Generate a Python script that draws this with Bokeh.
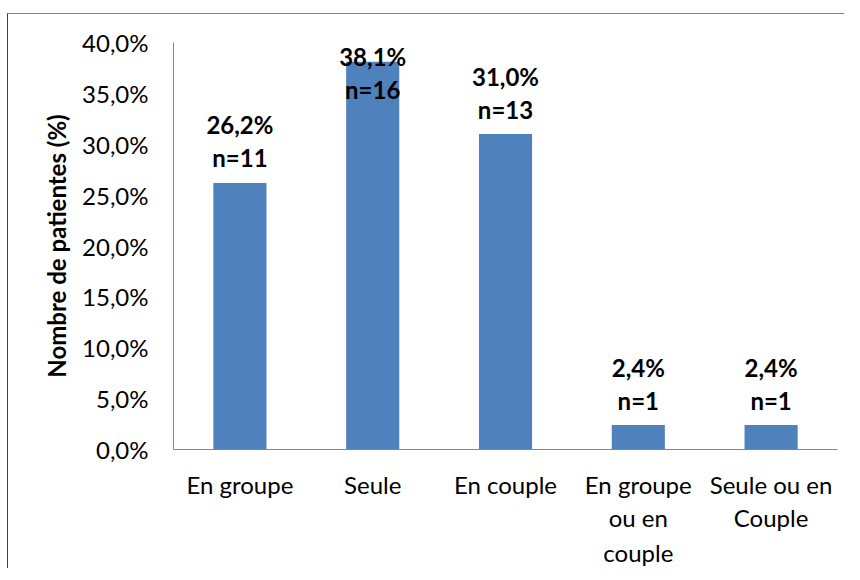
import numpy as np
from bokeh.plotting import figure
from bokeh.models import Range1d, ColumnDataSource, LinearAxis, FixedTicker
from bokeh.core.properties import value
from bokeh.embed import file_html
from bokeh.resources import INLINE

# ---- data ----
categories = ["En groupe", "Seule", "En couple", "En groupe ou en couple", "Seule ou en Couple"]
category_labels = ["En groupe", "Seule", "En couple", "En groupe\nou en\ncouple", "Seule ou en\nCouple"]
percentages = [26.2, 38.1, 31.0, 2.4, 2.4]
counts = [11, 16, 13, 1, 1]
pct_labels = ["26,2%", "38,1%", "31,0%", "2,4%", "2,4%"]
n_labels = ["n=11", "n=16", "n=13", "n=1", "n=1"]
y_ticks = [0, 5, 10, 15, 20, 25, 30, 35, 40]
y_tick_labels = ["0,0%", "5,0%", "10,0%", "15,0%", "20,0%", "25,0%", "30,0%", "35,0%", "40,0%"]
y_title = "Nombre de patientes (%)"

FONT = "Lato"
FS = "24px"
BAR = "#4F81BD"
AXIS = "#868686"

Y_MAX = 40
W, H = 837, 555
ML, MT, MR, MB = 165, 28, 8, 120
frame_h = H - 1 - MT - MB
ppu = frame_h / Y_MAX
PCT_OFF, N_OFF = 58, 25
anchor = np.minimum(np.array(percentages), Y_MAX - (PCT_OFF + 14) / ppu)

# category slot centres on a linear scale (slot i spans [i, i+1])
xpos = [i + 0.5 for i in range(len(categories))]
src = ColumnDataSource(dict(x=xpos, v=percentages, a=anchor, pl=pct_labels, nl=n_labels))

p = figure(x_range=Range1d(0, len(categories)), y_range=Range1d(0, Y_MAX),
           width=W, height=H, output_backend="svg", toolbar_location=None, x_axis_location=None,
           min_border_left=ML, min_border_top=MT, min_border_right=MR, min_border_bottom=MB)
p.margin = (13, 0, 0, 7)
p.styles = {"border-top": "1px solid #7f7f7f", "border-left": "1px solid #404040"}
p.outline_line_color = None
p.xgrid.grid_line_color = None
p.ygrid.grid_line_color = None

p.vbar(x="x", top="v", width=0.4, source=src, fill_color=BAR, line_color=None)

p.text(x="x", y="a", text="pl", source=src, y_offset=-PCT_OFF, text_align="center",
       text_baseline="middle", text_font=value(FONT), text_font_size=FS,
       text_font_style="bold", text_color="black")
p.text(x="x", y="a", text="nl", source=src, y_offset=-N_OFF, text_align="center",
       text_baseline="middle", text_font=value(FONT), text_font_size=FS,
       text_font_style="bold", text_color="black")

ya = p.yaxis[0]
ya.ticker = y_ticks
ya.major_label_overrides = {t: l for t, l in zip(y_ticks, y_tick_labels)}
ya.axis_line_color = AXIS
ya.major_tick_line_color = None
ya.minor_tick_line_color = None
ya.major_tick_out = 0
ya.major_label_standoff = 25
ya.major_label_text_font = FONT
ya.major_label_text_font_size = FS
ya.major_label_text_color = "black"
ya.axis_label = y_title
ya.axis_label_text_font = FONT
ya.axis_label_text_font_size = FS
ya.axis_label_text_font_style = "bold"
ya.axis_label_text_color = "black"
ya.axis_label_standoff = 8

# multi-line category labels: one axis per text line, ticks at category centres
split = [lbl.split("\n") for lbl in category_labels]
n_lines = max(len(s) for s in split)
STANDOFFS = [20, 1, 3]
for i in range(n_lines):
    pos = [xpos[j] for j, s in enumerate(split) if len(s) > i]
    txt = [s[i] for s in split if len(s) > i]
    ax = LinearAxis(ticker=FixedTicker(ticks=pos))
    ax.major_label_overrides = dict(zip(pos, txt))
    ax.axis_line_color = AXIS if i == 0 else None
    ax.major_tick_line_color = None
    ax.minor_tick_line_color = None
    ax.major_tick_out = 0
    ax.major_tick_in = 0
    ax.major_label_standoff = STANDOFFS[i]
    ax.major_label_text_font = FONT
    ax.major_label_text_font_size = FS
    ax.major_label_text_color = "black"
    p.add_layout(ax, "below")

open("out.html", "w").write(file_html(p, INLINE))
